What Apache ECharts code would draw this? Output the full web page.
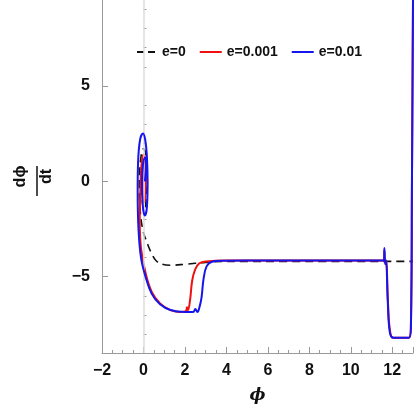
<!DOCTYPE html>
<html><head><meta charset="utf-8">
<script src="https://cdn.jsdelivr.net/npm/echarts@6/dist/echarts.min.js"></script>
<style>html,body{margin:0;padding:0;background:#fff}#c{width:415px;height:409px}</style>
</head><body><div id="c"></div>
<script>
const seriesNames = ['e=0', 'e=0.001', 'e=0.01'];
const e0 = [[0.03,0],[0.06,0.8],[0.03,1.2],[-0.04,0.6],[-0.07,-0.4],[-0.03,-1.3],[0.06,-1.5],[0.13,-0.8],[0.15,0.5],[0.1,1.5],[0.0,1.7],[-0.13,1.2],[-0.2,0],[-0.16,-1.5],[-0.02,-2.6],[0.2,-3.3],[0.4,-3.8],[0.6,-4.15],[0.9,-4.35],[1.3,-4.4],[2,-4.35],[3,-4.25],[4,-4.2],[13,-4.2]];
const e001 = [[0.04,0],[0.07,0.6],[0.04,0.9],[0.0,0.4],[-0.03,-0.5],[0.03,-1.1],[0.09,-0.8],[0.12,0.2],[0.1,1.1],[0.0,1.4],[-0.1,0.8],[-0.15,-0.5],[-0.18,-2.0],[-0.12,-3.5],[0.1,-4.8],[0.4,-5.8],[0.8,-6.4],[1.3,-6.75],[1.8,-6.85],[2.05,-6.8],[2.1,-6.6],[2.15,-6.75],[2.25,-6.2],[2.35,-5.2],[2.5,-4.6],[2.7,-4.3],[3.0,-4.2],[4,-4.15],[11.6,-4.15],[11.62,-3.6],[11.65,-4.3],[11.7,-4.15],[11.8,-6.5],[11.9,-7.9],[12.05,-8.2],[12.8,-8.2],[12.9,-7.5],[12.95,0],[13,9.5]];
const e01 = [[0.07,0],[0.13,1.0],[0.07,1.25],[-0.03,0.8],[-0.07,0],[-0.04,-1.2],[0.07,-1.8],[0.17,-1.3],[0.2,0],[0.16,1.4],[0.08,2.2],[-0.02,2.5],[-0.16,2.2],[-0.26,1.0],[-0.28,-0.5],[-0.24,-2.5],[-0.12,-4.0],[0.1,-5.0],[0.4,-5.9],[0.8,-6.45],[1.3,-6.75],[2,-6.85],[2.4,-6.85],[2.5,-6.7],[2.6,-6.85],[2.7,-6.6],[2.8,-6.1],[2.9,-5.1],[3.05,-4.45],[3.3,-4.22],[3.8,-4.16],[5,-4.15],[11.6,-4.15],[11.62,-3.5],[11.66,-4.35],[11.7,-4.15],[11.78,-6.2],[11.88,-7.9],[12.05,-8.2],[12.8,-8.2],[12.9,-7.6],[12.95,0],[13,9.5]];
const xTicks = [-2,0,2,4,6,8,10,12];
const yTickLabels = [-5,0,5];

const chart = echarts.init(document.getElementById('c'));
const axisCol = '#999';
const fmt = v => String(v).replace('-', '\u2212');
const lbl = {color:'#111', fontWeight:'bold', fontSize:16, fontFamily:'Liberation Sans', formatter:fmt};
const ln = (name,data,color,type,z)=>({name,type:'line',data,smooth:0.4,showSymbol:false,symbol:'none',z,
  lineStyle:{color,width:2,type},itemStyle:{color}});
chart.setOption({
  animation:false,
  grid:{left:78,right:2,top:0,bottom:52},
  legend:{top:40,left:132,itemWidth:22,itemHeight:2,itemGap:14,icon:'path://M0,0H22V2H0Z',
    textStyle:{color:'#111',fontWeight:'bold',fontSize:14,fontFamily:'Liberation Sans'},
    data:[{name:'e=0',icon:'path://M0,0H7V2H0ZM11,0H18V2H11Z'},'e=0.001','e=0.01']},
  xAxis:{type:'value',min:-2,max:13,interval:2,
    axisLine:{onZero:false,lineStyle:{color:axisCol}},
    axisTick:{inside:true,length:6,lineStyle:{color:axisCol}},
    minorTick:{show:true,splitNumber:4,length:3,lineStyle:{color:axisCol}},
    splitLine:{show:false},
    axisLabel:Object.assign({customValues:xTicks,margin:10},lbl),
    name:'ϕ',nameLocation:'middle',nameGap:34,
    nameTextStyle:{color:'#111',fontWeight:'bold',fontStyle:'italic',fontSize:17,fontFamily:'DejaVu Serif'}},
  yAxis:[{type:'value',min:-9,max:9.5,
    axisLine:{show:true,onZero:false,lineStyle:{color:axisCol}},
    axisTick:{show:true,inside:true,length:6,customValues:yTickLabels,lineStyle:{color:axisCol}},
    splitLine:{show:false},
    axisLabel:Object.assign({customValues:yTickLabels,margin:12},lbl),
    name:'{a|dϕ}\n{b|dt}',nameLocation:'middle',nameRotate:90,nameGap:42,
    nameTextStyle:{color:'#111',fontWeight:'bold',fontSize:16,fontFamily:'Liberation Sans',lineHeight:26,
      rich:{a:{fontSize:16,fontWeight:'bold',lineHeight:26},b:{fontSize:16,fontWeight:'bold',lineHeight:26}}}},
   {type:'value',min:-9,max:9.5,position:'left',
    axisLine:{show:false},
    axisTick:{show:true,inside:true,length:3,customValues:[-8,-7,-6,-4,-3,-2,-1,1,2,3,4,6,7,8,9],lineStyle:{color:axisCol}},
    splitLine:{show:false},axisLabel:{show:false}}],
  series:[
    Object.assign(ln(seriesNames[0],e0,'#111','dashed',3),{lineStyle:{color:'#111',width:1.6,type:[8,5]},
      markLine:{silent:true,symbol:'none',label:{show:false},lineStyle:{color:'#ddd',width:1.5,type:'solid'},data:[{xAxis:0}]}}),
    ln(seriesNames[1],e001,'#ee1111','solid',4),
    ln(seriesNames[2],e01,'#1515ee','solid',5)
  ],
  graphic:[
    {type:'line',shape:{x1:37,y1:196,x2:37,y2:166},style:{stroke:'#111',lineWidth:1.5}}
  ]
});
</script></body></html>
